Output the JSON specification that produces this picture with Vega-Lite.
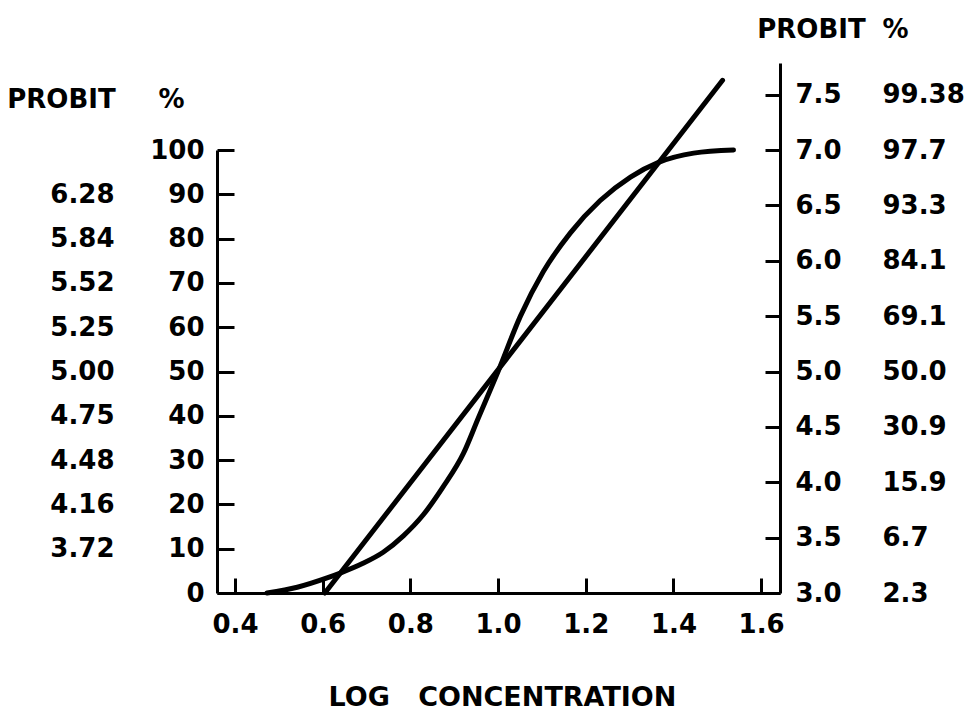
{
  "$schema": "https://vega.github.io/schema/vega-lite/v6.json",
  "width": 563,
  "height": 530,
  "autosize": {"type": "none"},
  "padding": {"left": 217, "top": 63, "right": 185, "bottom": 124},
  "background": "white",
  "config": {
    "view": {"stroke": null},
    "font": "DejaVu Sans",
    "axis": {
      "grid": false,
      "domainColor": "black",
      "domainWidth": 3,
      "tickColor": "black",
      "tickWidth": 3,
      "labelColor": "black",
      "labelFont": "DejaVu Sans",
      "labelFontWeight": "bold",
      "labelFontSize": 26,
      "labelOverlap": false,
      "labelFlush": false,
      "titleColor": "black",
      "titleFont": "DejaVu Sans",
      "titleFontWeight": "bold",
      "titleFontSize": 26
    }
  },
  "datasets": {
    "curve": [
      {"logc": 0.473, "pct": 0},
      {"logc": 0.542, "pct": 1.3},
      {"logc": 0.610, "pct": 3.4},
      {"logc": 0.640, "pct": 4.5},
      {"logc": 0.692, "pct": 6.7},
      {"logc": 0.738, "pct": 9.2},
      {"logc": 0.784, "pct": 12.9},
      {"logc": 0.829, "pct": 17.6},
      {"logc": 0.875, "pct": 24.0},
      {"logc": 0.921, "pct": 31.5},
      {"logc": 0.955, "pct": 39.5},
      {"logc": 1.000, "pct": 50.0},
      {"logc": 1.051, "pct": 62.5},
      {"logc": 1.103, "pct": 72.5},
      {"logc": 1.165, "pct": 81.3},
      {"logc": 1.233, "pct": 88.6},
      {"logc": 1.302, "pct": 93.9},
      {"logc": 1.366, "pct": 97.2},
      {"logc": 1.446, "pct": 99.3},
      {"logc": 1.537, "pct": 100}
    ],
    "line": [
      {"logc": 0.605, "probit": 3.0},
      {"logc": 1.512, "probit": 7.63}
    ]
  },
  "layer": [
    {
      "data": {"name": "curve"},
      "mark": {"type": "line", "color": "black", "strokeWidth": 5, "strokeCap": "round", "strokeJoin": "round", "interpolate": "monotone"},
      "encoding": {
        "x": {
          "field": "logc", "type": "quantitative",
          "scale": {"domain": [0.359, 1.643], "nice": false, "zero": false},
          "axis": {
            "orient": "bottom",
            "values": [0.4, 0.6, 0.8, 1.0, 1.2, 1.4, 1.6],
            "format": ".1f",
            "tickSize": -15,
            "labelPadding": 33,
            "title": "LOG\u00a0\u00a0\u00a0CONCENTRATION",
            "titleFontSize": 27,
            "titleX": 285,
            "titleY": 112,
            "titleAlign": "center",
            "titleBaseline": "alphabetic"
          }
        },
        "y": {
          "field": "pct", "type": "quantitative",
          "scale": {"domain": [0, 100], "range": [530, 87], "nice": false, "zero": false},
          "axis": {
            "orient": "left",
            "values": [0, 10, 20, 30, 40, 50, 60, 70, 80, 90, 100],
            "tickSize": -17,
            "labelPadding": 30,
            "title": "%",
            "titleAngle": 0,
            "titleX": -46,
            "titleY": 44,
            "titleAlign": "center",
            "titleBaseline": "alphabetic"
          }
        }
      }
    },
    {
      "data": {"name": "curve"},
      "mark": {"type": "line", "color": "black", "strokeOpacity": 0},
      "encoding": {
        "x": {"field": "logc", "type": "quantitative", "scale": {"domain": [0.359, 1.643], "nice": false, "zero": false}, "axis": null},
        "y": {
          "field": "pct", "type": "quantitative",
          "scale": {"domain": [0, 100], "range": [530, 87], "nice": false, "zero": false},
          "axis": {
            "orient": "left",
            "values": [10, 20, 30, 40, 50, 60, 70, 80, 90],
            "domain": false,
            "ticks": false,
            "labelPadding": 103,
            "labelExpr": "datum.value == 10 ? '3.72' : datum.value == 20 ? '4.16' : datum.value == 30 ? '4.48' : datum.value == 40 ? '4.75' : datum.value == 50 ? '5.00' : datum.value == 60 ? '5.25' : datum.value == 70 ? '5.52' : datum.value == 80 ? '5.84' : '6.28'",
            "title": "PROBIT",
            "titleAngle": 0,
            "titleX": -156,
            "titleY": 44,
            "titleAlign": "center",
            "titleBaseline": "alphabetic"
          }
        }
      }
    },
    {
      "data": {"name": "line"},
      "mark": {"type": "line", "color": "black", "strokeWidth": 5, "strokeCap": "round"},
      "encoding": {
        "x": {"field": "logc", "type": "quantitative", "scale": {"domain": [0.359, 1.643], "nice": false, "zero": false}, "axis": null},
        "y": {
          "field": "probit", "type": "quantitative",
          "scale": {"domain": [3, 7.786], "range": [530, 0], "nice": false, "zero": false},
          "axis": {
            "orient": "right",
            "values": [3, 3.5, 4, 4.5, 5, 5.5, 6, 6.5, 7, 7.5],
            "format": ".1f",
            "tickSize": -15,
            "labelPadding": 30,
            "title": "PROBIT",
            "titleAngle": 0,
            "titleX": 31,
            "titleY": -26,
            "titleAlign": "center",
            "titleBaseline": "alphabetic"
          }
        }
      }
    },
    {
      "data": {"name": "line"},
      "mark": {"type": "line", "color": "black", "strokeOpacity": 0},
      "encoding": {
        "x": {"field": "logc", "type": "quantitative", "scale": {"domain": [0.359, 1.643], "nice": false, "zero": false}, "axis": null},
        "y": {
          "field": "probit", "type": "quantitative",
          "scale": {"domain": [3, 7.786], "range": [530, 0], "nice": false, "zero": false},
          "axis": {
            "orient": "right",
            "values": [3, 3.5, 4, 4.5, 5, 5.5, 6, 6.5, 7, 7.5],
            "format": ".1f",
            "domain": false,
            "ticks": false,
            "labelPadding": 102,
            "labelAlign": "left",
            "labelExpr": "datum.label == '3.0' ? '2.3' : datum.label == '3.5' ? '6.7' : datum.label == '4.0' ? '15.9' : datum.label == '4.5' ? '30.9' : datum.label == '5.0' ? '50.0' : datum.label == '5.5' ? '69.1' : datum.label == '6.0' ? '84.1' : datum.label == '6.5' ? '93.3' : datum.label == '7.0' ? '97.7' : '99.38'",
            "title": "%",
            "titleAngle": 0,
            "titleX": 115,
            "titleY": -26,
            "titleAlign": "center",
            "titleBaseline": "alphabetic"
          }
        }
      }
    }
  ],
  "resolve": {"scale": {"y": "independent"}, "axis": {"x": "independent", "y": "independent"}}
}
